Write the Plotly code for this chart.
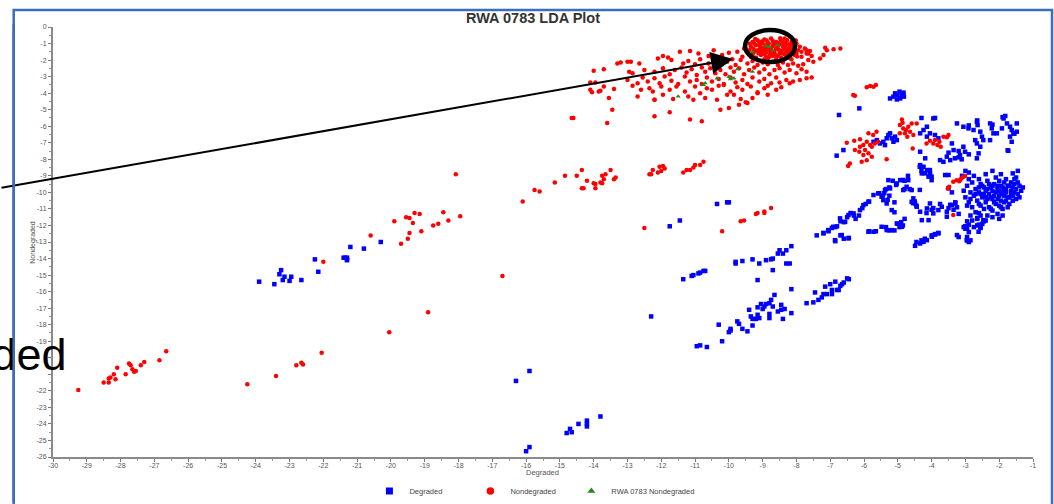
import plotly.graph_objects as go

# ---------------- data ----------------
# Degraded (blue squares)
deg_left = [(-23.9,-15.4),(-23.45,-15.55),(-23.3,-14.95),(-23.25,-14.7),(-23.15,-15.1),(-23.2,-15.3),
            (-23.0,-15.35),(-22.95,-15.1),(-22.65,-15.3),(-22.25,-14.05),(-22.15,-14.8),(-21.4,-13.95),
            (-21.35,-13.95),(-21.3,-14.05),(-21.3,-13.95),(-21.3,-14.1),(-21.2,-13.3),(-20.8,-13.4),(-20.3,-13.0)]
deg_bottom = [(-16.3,-21.4),(-15.9,-20.8),(-16.0,-25.65),(-15.9,-25.4),(-14.8,-24.55),(-14.7,-24.3),
              (-14.65,-24.5),(-14.45,-24.0),(-14.2,-23.8),(-14.2,-24.0),(-14.2,-24.15),(-13.8,-23.55)]
deg_mid = [(-12.3,-17.5),(-11.75,-12.05),(-11.45,-11.7),(-10.35,-10.7),(-10.05,-10.6),(-10.0,-10.6),
           (-11.35,-15.25),(-11.1,-15.05),(-11.05,-15.0),(-10.9,-14.9),(-10.85,-14.85),(-10.75,-14.75),
           (-10.7,-14.75),(-9.8,-14.3),(-9.8,-14.2),(-9.6,-14.15),(-9.3,-14.05),(-9.1,-14.3),(-8.9,-14.1),
           (-8.75,-14.05),(-8.7,-14.0),(-8.7,-14.7),(-8.55,-13.7),(-8.5,-13.5),(-8.4,-13.7),(-8.3,-13.5),
           (-8.15,-13.25),(-8.3,-14.3),(-8.2,-14.3),(-9.15,-15.3),(-8.15,-15.85)]
deg_lower = [(-10.95,-19.3),(-10.85,-19.25),(-10.65,-19.35),(-10.3,-18.0),(-10.2,-19.0),(-10.0,-18.45),
             (-9.95,-18.35),(-9.95,-18.25),(-9.75,-17.8),(-9.7,-17.95),(-9.6,-18.25),(-9.45,-18.4),
             (-9.4,-17.1),(-9.3,-18.05),(-9.35,-17.5),(-9.3,-17.65),(-9.2,-17.65),(-9.15,-17.4),(-9.1,-17.6),
             (-9.15,-16.95),(-9.05,-16.75),(-9.0,-17.05),(-8.95,-16.9),(-8.9,-16.75),(-8.8,-16.7),
             (-8.75,-16.5),(-8.7,-16.9),(-8.65,-16.2),(-8.8,-17.6),(-8.8,-17.35),(-8.55,-17.2),(-8.45,-17.1),
             (-8.45,-16.8),(-8.35,-17.05),(-8.4,-17.65),(-8.15,-17.3),(-7.7,-16.7),(-7.45,-16.05),(-7.5,-16.65),
             (-7.35,-16.5),(-7.25,-16.35),(-7.2,-16.15),(-7.15,-15.7),(-7.1,-16.15),(-7.0,-15.55),(-6.95,-15.9),
             (-6.95,-16.15),(-6.85,-15.4),(-6.8,-15.9),(-6.75,-15.9),(-6.7,-15.65),(-6.65,-15.55),(-6.6,-15.45),
             (-6.5,-15.2),(-6.45,-15.25)]
deg_band = [(-7.4,-12.6),(-7.2,-12.45),(-7.05,-12.35),(-6.95,-12.15),(-6.85,-12.1),(-6.8,-12.05),(-6.85,-12.95),
            (-6.7,-12.6),(-6.6,-12.8),(-6.45,-12.75),(-6.7,-11.75),(-6.6,-11.8),(-6.5,-11.5),(-6.4,-11.25),
            (-6.25,-11.6),(-6.3,-11.4),(-6.15,-11.4),(-6.05,-10.95),(-5.95,-10.7),(-5.85,-10.55),(-5.85,-12.35),
            (-5.65,-12.35),(-5.55,-10.05),(-5.45,-10.2),(-5.4,-10.05),(-5.35,-9.8),(-5.3,-10.45),(-5.25,-10.2),
            (-5.35,-12.1),(-5.25,-12.3),(-5.1,-12.3),(-5.25,-9.7),(-5.15,-9.3),(-5.05,-9.55),(-5.1,-10.6),
            (-5.1,-11.2),(-5.0,-11.9),(-4.95,-12.1),(-4.9,-11.8),(-4.85,-12.0),(-4.8,-11.6),(-4.85,-9.25),
            (-4.8,-9.3),(-4.7,-9.0),(-4.8,-9.8),(-4.65,-9.8),(-4.55,-10.65),(-4.5,-10.55),(-4.45,-10.8),
            (-4.35,-9.85),(-4.45,-13.0),(-4.3,-12.9),(-4.2,-12.8),(-4.0,-12.6),(-3.9,-12.55),(-3.8,-12.45),
            (-4.15,-11.25),(-4.0,-11.05),(-3.95,-10.95),(-3.75,-10.7),(-3.5,-10.95),(-3.5,-8.95),(-4.35,-8.45),
            (-4.3,-8.7),(-4.2,-8.85),(-4.05,-8.65),(-4.05,-8.9),(-4.0,-9.05),(-3.45,-10.75),(-3.35,-11.05),
            (-3.2,-12.7),(-2.95,-12.9),(-2.9,-13.0),(-3.05,-12.1),(-2.95,-12.2),(-3.0,-12.05),
            (-5.72,-10.16),(-5.58,-10.06),(-5.48,-10.26),(-5.38,-9.86),(-5.28,-9.26),(-5.23,-9.76),(-5.03,-9.46),
            (-4.93,-9.26),(-4.84,-9.86),(-4.74,-9.66),(-4.69,-9.26),(-4.59,-9.86),(-4.54,-10.36),(-4.49,-10.67),
            (-5.18,-11.07),(-5.33,-10.67),(-5.43,-10.47),(-5.87,-10.57),(-6.02,-10.77),(-6.12,-11.07),
            (-6.31,-11.27),(-6.46,-11.37),(-6.56,-11.78),(-6.71,-11.57),(-6.91,-12.08),(-7.06,-12.28),
            (-7.2,-12.48),(-6.86,-12.89),(-6.66,-12.58),(-6.46,-12.78),(-5.87,-12.38),(-5.72,-12.38),
            (-5.48,-12.08),(-5.33,-12.28),(-5.18,-12.28),(-5.03,-11.88),(-4.93,-11.98),(-4.88,-12.08),
            (-4.59,-10.57),(-4.44,-10.87),(-4.34,-11.17),(-4.14,-10.97),(-4.05,-10.67),(-3.95,-11.27),
            (-3.8,-11.07),(-3.7,-10.87),(-3.55,-11.17),(-3.55,-11.47),(-3.4,-10.77),(-3.3,-10.67),
            (-4.49,-13.23),(-4.34,-13.09),(-4.24,-12.99),(-4.14,-12.89),(-3.99,-12.68),(-3.9,-12.52),
            (-3.8,-12.48),(-3.25,-12.58),(-3.01,-12.08),(-2.96,-12.89),(-2.61,-12.38),(-2.56,-12.08),
            (-2.47,-11.68),(-4.09,-11.68),(-4.29,-11.68)]
deg_upper = [(-5.23,-4.32),(-5.13,-4.21),(-5.08,-4.01),(-5.01,-4.11),(-4.95,-3.91),(-4.93,-4.32),(-4.88,-4.11),
             (-4.83,-3.97),(-5.03,-4.38),(-4.82,-4.21),(-6.14,-4.92),(-6.74,-5.32),(-6.81,-7.78),(-6.61,-7.44),
             (-5.72,-6.94),(-5.62,-6.84),(-5.53,-7.04),(-5.43,-6.94),(-5.33,-6.73),(-5.28,-6.53),(-5.23,-6.43),
             (-5.18,-6.73),(-5.13,-6.94),(-5.03,-6.84),(-5.08,-6.63),(-5.38,-7.14),
             (-3.25,-5.83),(-3.06,-6.03),(-2.91,-6.13),(-2.76,-6.23),(-2.66,-5.73),(-2.64,-5.93),(-2.56,-6.33),
             (-2.51,-6.63),(-2.47,-6.84),(-2.71,-6.84),(-2.66,-7.04),(-2.56,-7.24),(-2.61,-7.64),(-2.66,-7.94),
             (-2.27,-5.83),(-2.22,-6.13),(-2.17,-6.43),(-2.27,-6.84),(-2.07,-6.43),(-1.92,-6.13),(-1.87,-5.53),
             (-1.82,-5.38),(-1.77,-5.83),(-1.68,-6.03),(-1.63,-6.23),(-1.58,-6.43),(-1.68,-6.63),(-1.63,-6.94),
             (-1.48,-6.33),(-1.48,-5.83),(-1.73,-7.48),(-3.06,-7.24),(-3.01,-7.54),(-3.16,-7.74),(-3.31,-7.94),
             (-3.45,-8.05),(-3.55,-7.84),(-3.35,-7.44),(-3.4,-7.04),(-3.75,-8.05),(-3.65,-8.15),(-3.95,-5.53),
             (-4.14,-6.03),(-4.34,-6.43),(-4.24,-6.23),(-4.05,-6.43),(-3.9,-6.53),(-3.8,-6.73),(-4.14,-6.63),
             (-4.34,-7.54),(-4.19,-7.94),(-4.34,-8.35),(-4.24,-8.45),(-4.14,-8.65),(-4.05,-8.85),(-4.09,-9.05),
             (-4.0,-9.26),(-4.29,-8.85),(-3.2,-7.88),(-3.11,-8.0),(-3.9,-5.5),(-4.3,-5.5),(-2.9,-5.95),
             (-2.65,-5.65),(-1.9,-5.45),(-1.55,-6.45),(-2.2,-5.9),(-3.6,-8.95),(-3.5,-9.75),(-3.5,-7.6),
             (-3.2,-7.5),(-2.9,-7.7),(-1.75,-7.45)]
deg_cloud = [(-3.05,-9.9),(-3.0,-10.3),(-2.95,-9.6),(-2.9,-10.6),(-2.85,-10.0),(-2.8,-9.4),(-2.8,-10.9),
             (-2.75,-10.2),(-2.7,-9.8),(-2.7,-11.2),(-2.65,-10.5),(-2.6,-9.2),(-2.6,-10.0),(-2.55,-10.8),
             (-2.5,-9.6),(-2.5,-10.3),(-2.45,-11.0),(-2.4,-9.9),(-2.4,-10.6),(-2.35,-9.3),(-2.35,-11.4),
             (-2.3,-10.1),(-2.3,-10.9),(-2.25,-9.7),(-2.2,-10.4),(-2.2,-11.1),(-2.15,-9.5),(-2.1,-10.0),
             (-2.1,-10.7),(-2.05,-9.8),(-2.05,-11.3),(-2.0,-10.2),(-2.0,-9.3),(-1.95,-10.5),(-1.95,-10.9),
             (-1.9,-9.7),(-1.9,-10.1),(-1.85,-9.4),(-1.85,-10.6),(-1.8,-10.0),(-1.8,-9.8),(-1.75,-10.3),
             (-1.7,-9.6),(-1.7,-10.7),(-1.65,-9.9),(-1.6,-10.2),(-1.55,-9.5),(-1.55,-10.0),(-1.5,-9.8),
             (-1.45,-10.1),(-1.4,-9.6),(-1.35,-9.9),(-1.3,-9.7),(-2.95,-10.8),(-2.9,-9.2),(-2.85,-11.4),
             (-2.75,-9.0),(-2.65,-11.6),(-2.6,-10.7),(-2.55,-9.5),(-2.5,-11.9),(-2.45,-10.1),(-2.4,-8.9),
             (-2.35,-10.4),(-2.3,-9.5),(-2.25,-11.0),(-2.2,-9.9),(-2.15,-10.6),(-2.1,-9.1),(-2.05,-10.4),
             (-2.0,-10.8),(-1.95,-9.6),(-1.9,-11.0),(-1.85,-10.2),(-1.8,-9.2),(-1.75,-10.9),(-1.7,-10.3),
             (-1.65,-9.4),(-1.6,-10.5),(-1.55,-9.2),(-1.5,-10.4),(-1.45,-9.4),(-1.4,-10.3),(-2.85,-10.4),
             (-2.7,-10.1),(-2.55,-10.1),(-2.45,-9.7),(-2.35,-9.8),(-2.25,-10.3),(-2.15,-10.2),(-2.05,-9.6),
             (-1.95,-10.0),(-1.85,-9.9),(-1.75,-9.6),(-1.65,-10.1),(-2.6,-9.7),(-2.4,-10.3),(-2.2,-9.6),
             (-2.0,-9.9),(-1.8,-10.5),(-1.6,-9.7),(-3.1,-9.0),(-3.0,-8.7),(-2.9,-8.8),(-2.2,-8.7),(-1.95,-8.9),
             (-1.6,-8.85),(-1.45,-8.7),(-1.5,-9.1),(-2.8,-11.7),(-2.75,-12.1),(-2.9,-12.4),(-2.95,-12.7),
             (-2.85,-12.9),(-3.0,-12.2),(-2.65,-12.0),(-2.55,-11.4),(-2.4,-11.7),(-2.2,-11.5),(-2.0,-11.6),
             (-1.9,-11.4),(-3.2,-11.3),(-3.3,-10.6),(-3.4,-10.0),(-3.25,-10.9),(-2.95,-11.75),(-2.9,-11.95),
             (-2.6,-11.95),(-2.55,-12.15),(-2.45,-11.75),(-2.65,-11.55),(-2.6,-11.25)]

# Nondegraded (red circles)
nd_lowleft = [(-29.25,-21.95),(-28.5,-21.5),(-28.35,-21.5),(-28.35,-21.25),(-28.3,-21.2),(-28.2,-21.0),
              (-28.15,-21.3),(-28.1,-20.6),(-27.85,-21.0),(-27.75,-20.35),(-27.7,-20.45),(-27.65,-20.7),
              (-27.6,-20.85),(-27.55,-20.8),(-27.4,-20.45),(-27.3,-20.25),(-26.85,-20.15),(-26.65,-19.6),
              (-24.25,-21.6),(-23.4,-21.1),(-22.8,-20.45),(-22.65,-20.3),(-22.6,-20.4),(-22.05,-19.7),
              (-22.0,-14.2),(-20.05,-18.45),(-18.9,-17.25),(-16.7,-15.05)]
nd_mid = [(-18.08,-8.9),(-20.6,-12.6),(-19.9,-11.75),(-19.55,-11.5),(-19.45,-11.55),(-19.3,-11.25),
          (-19.15,-11.3),(-19.35,-11.85),(-19.45,-12.45),(-19.5,-12.8),(-19.7,-13.1),(-19.1,-12.35),
          (-18.75,-12.0),(-18.6,-11.9),(-18.45,-11.2),(-18.3,-11.7),(-17.95,-11.45),(-16.1,-10.55),
          (-15.75,-9.85),(-15.6,-9.95),(-15.15,-9.4),(-14.85,-9.0),(-14.5,-9.0),(-14.35,-8.65),
          (-14.35,-9.75),(-14.3,-9.75),(-14.2,-9.3),(-14.0,-9.45),(-13.95,-9.75),(-13.95,-9.5),(-13.8,-9.4),
          (-13.75,-9.0),(-13.65,-8.9),(-13.7,-9.2),(-13.75,-9.45),(-13.5,-8.65),(-13.4,-9.2),(-13.35,-9.1),
          (-12.5,-12.15),(-12.35,-8.9),(-12.3,-8.9),(-12.25,-8.65),(-12.1,-8.8),(-12.05,-8.45),(-11.95,-8.4),
          (-12.0,-8.7),(-11.9,-8.55),(-11.35,-8.8),(-11.25,-8.65),(-11.15,-8.65),(-11.05,-8.5),(-11.0,-8.35),
          (-10.85,-8.35),(-10.75,-8.15),(-10.2,-12.35),(-9.65,-11.75),(-9.55,-11.7),(-9.2,-11.3),
          (-9.15,-11.25),(-8.95,-11.15),(-8.95,-11.25),(-8.75,-10.95)]
nd_core = [(-9.35,-1.2),(-9.3,-0.9),(-9.25,-1.5),(-9.2,-1.1),(-9.15,-0.8),(-9.1,-1.35),(-9.05,-1.7),
           (-9.0,-1.0),(-8.95,-0.75),(-8.95,-1.25),(-8.9,-1.55),(-8.85,-0.95),(-8.8,-1.4),(-8.8,-1.8),
           (-8.75,-0.7),(-8.7,-1.15),(-8.65,-1.6),(-8.6,-0.9),(-8.6,-1.3),(-8.55,-1.75),(-8.5,-1.05),
           (-8.45,-0.8),(-8.45,-1.45),(-8.4,-1.2),(-8.35,-1.65),(-8.3,-0.95),(-8.25,-1.35),(-8.2,-1.1),
           (-8.15,-1.55),(-8.1,-0.85),(-8.1,-1.3),(-8.05,-1.7),(-8.0,-1.0),(-7.95,-1.4),(-9.3,-1.65),
           (-9.2,-1.85),(-9.1,-0.95),(-9.0,-1.45),(-8.9,-1.1),(-8.85,-1.9),(-8.75,-1.3),(-8.7,-0.85),
           (-8.65,-1.45),(-8.55,-1.15),(-8.5,-1.6),(-8.4,-0.9),(-8.35,-1.35),(-8.3,-1.8),(-8.25,-1.05),
           (-8.2,-1.5),(-8.15,-0.9),(-8.05,-1.2),(-9.4,-1.4),(-9.35,-1.8),(-9.25,-1.0),(-9.05,-1.25),
           (-8.95,-1.95),(-8.85,-1.25),(-8.6,-1.95),(-8.45,-1.85),(-8.3,-1.5),(-8.15,-1.95),(-8.0,-1.6),
           (-7.9,-1.2),(-7.85,-1.5),(-7.85,-1.8),(-7.75,-1.3),(-7.7,-1.6),(-7.65,-2.0),(-7.6,-1.45),
           (-7.55,-1.75),(-7.5,-2.1),(-7.2,-1.7),(-7.1,-1.4),(-7.15,-1.25),(-6.9,-1.35),(-6.7,-1.3),
           (-7.7,-1.4),(-7.65,-1.6),(-7.3,-1.9),
           (-9.28,-1.32),(-9.22,-0.72),(-9.12,-1.58),(-9.08,-1.12),(-9.02,-0.88),(-8.98,-1.62),(-8.92,-1.38),
           (-8.88,-0.82),(-8.82,-1.02),(-8.78,-1.62),(-8.72,-1.52),(-8.68,-1.02),(-8.62,-1.72),(-8.58,-1.08),
           (-8.52,-1.38),(-8.48,-0.68),(-8.42,-1.58),(-8.38,-1.08),(-8.32,-1.22),(-8.28,-0.78),(-8.22,-1.68),
           (-8.18,-1.28),(-8.12,-1.08),(-8.08,-1.48),(-8.02,-0.82),(-7.98,-1.78),(-9.18,-1.42),(-9.38,-1.02),
           (-8.55,-0.95),(-8.7,-1.75),(-8.9,-1.8),(-9.05,-1.55),(-8.35,-0.7),(-8.25,-1.85)]
nd_cloud = [(-11.45,-1.5),(-11.15,-1.45),(-10.9,-1.6),(-10.6,-1.75),(-10.45,-1.4),(-10.2,-1.7),(-10.0,-1.55),
            (-9.75,-1.5),(-9.6,-1.8),(-9.55,-1.3),(-12.1,-1.9),(-11.95,-1.75),(-11.8,-1.85),(-11.7,-2.0),
            (-11.35,-2.2),(-11.2,-2.05),(-11.0,-2.25),(-10.85,-1.95),(-10.6,-2.2),(-10.4,-2.0),(-10.3,-2.3),
            (-10.05,-2.1),(-9.9,-1.95),(-9.8,-2.3),(-9.65,-2.0),(-9.45,-2.2),(-9.3,-2.05),(-9.15,-2.3),
            (-9.0,-2.15),(-8.85,-2.25),(-8.7,-2.1),(-8.55,-2.3),(-8.4,-2.15),(-8.25,-2.3),(-8.1,-2.2),
            (-7.95,-2.35),(-7.8,-2.25),(-12.85,-2.8),(-12.5,-2.6),(-12.2,-2.7),(-11.95,-2.5),(-11.75,-2.85),
            (-11.6,-2.6),(-11.4,-2.45),(-11.25,-2.75),(-11.1,-2.55),(-10.95,-2.9),(-10.8,-2.45),(-10.7,-2.7),
            (-10.55,-2.5),(-10.4,-2.8),(-10.25,-2.6),(-10.1,-2.85),(-9.95,-2.45),(-9.85,-2.7),(-9.7,-2.5),
            (-9.55,-2.85),(-9.4,-2.6),(-9.25,-2.45),(-9.1,-2.75),(-8.95,-2.55),(-8.8,-2.85),(-8.65,-2.6),
            (-8.5,-2.5),(-8.35,-2.75),(-8.2,-2.6),(-8.0,-2.8),(-7.85,-2.55),(-7.7,-2.7),(-13.0,-3.2),
            (-12.7,-3.4),(-12.55,-3.05),(-12.4,-3.3),(-12.2,-3.1),(-12.05,-3.4),(-11.9,-3.0),(-11.7,-3.25),
            (-11.5,-3.45),(-11.3,-3.0),(-11.15,-3.3),(-10.95,-3.2),(-10.8,-3.45),(-10.65,-3.05),(-10.5,-3.3),
            (-10.3,-3.15),(-10.15,-3.45),(-9.95,-3.05),(-9.8,-3.35),(-9.6,-3.2),(-9.45,-3.45),(-9.3,-3.05),
            (-9.1,-3.3),(-8.95,-3.15),(-8.75,-3.4),(-8.6,-3.05),(-8.5,-3.35),(-8.3,-3.2),(-8.2,-3.4),
            (-8.1,-3.3),(-7.9,-3.2),(-7.7,-3.1),(-7.55,-3.05),(-13.7,-3.6),(-13.4,-3.75),(-12.85,-3.55),
            (-12.6,-3.8),(-12.35,-3.7),(-12.0,-3.6),(-11.75,-3.8),(-11.55,-3.6),(-11.3,-3.9),(-11.0,-3.6),
            (-10.85,-4.0),(-10.65,-3.7),(-10.5,-3.8),(-10.3,-3.55),(-10.15,-3.5),(-9.95,-3.9),(-9.75,-3.65),
            (-9.6,-3.8),(-9.35,-3.6),(-9.15,-3.95),(-8.95,-3.7),(-8.85,-3.55),(-8.6,-3.8),(-8.45,-3.65),
            (-13.8,-3.85),(-14.05,-3.95),(-13.55,-4.3),(-12.7,-4.2),(-12.2,-4.4),(-11.95,-4.1),(-11.65,-4.35),
            (-11.2,-4.2),(-11.05,-4.4),(-10.7,-4.3),(-10.35,-4.4),(-10.05,-4.1),(-9.85,-4.1),(-9.65,-4.35),
            (-9.5,-4.55),(-9.3,-4.3),(-9.15,-4.0),(-8.85,-4.1),(-13.45,-5.0),(-13.6,-5.8),(-12.2,-5.4),
            (-11.75,-5.15),(-11.15,-5.6),(-10.8,-5.7),(-10.25,-5.0),(-10.0,-4.9),(-9.7,-4.7),(-9.45,-4.6),
            (-14.65,-5.5),(-14.6,-5.5),(-14.0,-2.65),(-13.7,-2.55),(-13.3,-2.2),(-13.2,-2.15),(-13.0,-2.1),
            (-12.9,-2.1),(-12.65,-2.2),(-14.1,-3.35),(-13.95,-3.35),(-12.95,-2.7),(-14.1,-3.8),(-13.85,-3.9),
            (-12.25,-3.9),(-12.2,-4.4)]
nd_right = [(-5.92,-3.65),(-5.82,-3.57),(-5.72,-3.61),(-5.65,-3.51),(-6.27,-4.15),(-6.32,-4.11),
            (-6.51,-7.0),(-6.29,-6.88),(-6.12,-6.78),(-5.87,-6.43),(-5.73,-6.53),(-5.63,-6.33),(-5.92,-6.94),
            (-5.82,-7.14),(-6.02,-7.14),(-6.12,-7.24),(-6.27,-7.44),(-5.97,-7.44),(-5.87,-7.64),(-5.77,-7.85),
            (-6.02,-7.74),(-5.92,-8.05),(-6.07,-8.15),(-6.42,-8.25),(-6.47,-8.41),(-5.33,-7.99),(-5.68,-7.04),
            (-5.58,-6.94),(-5.77,-7.24),(-6.14,-7.54),(-4.88,-5.59),(-4.94,-5.93),(-4.84,-6.13),(-4.76,-6.23),
            (-4.69,-6.03),(-4.64,-6.33),(-4.79,-6.43),(-4.59,-5.83),(-4.94,-6.43),(-4.54,-6.53),(-4.44,-5.83),
            (-4.72,-6.63),(-4.56,-7.34),(-4.86,-5.79),(-4.05,-6.88),(-3.95,-7.04),(-3.9,-6.84),(-3.83,-7.14),
            (-3.77,-6.94),(-3.65,-6.63),(-3.55,-6.67),(-3.5,-6.53),(-4.15,-7.04),(-3.73,-7.24),(-3.36,-9.36),
            (-3.26,-9.26),(-3.18,-9.32),(-3.11,-9.15),(-3.06,-9.05),(-3.01,-9.01),(-3.48,-9.66),(-3.52,-9.76),
            (-3.15,-9.22),(-3.36,-11.37)]

# RWA 0783 Nondegraded (green triangles)
rwa = [(-11.5,-4.2),(-10.75,-3.5),(-10.7,-3.4),(-10.35,-3.1),(-10.0,-3.0),(-9.95,-3.15),(-9.85,-3.1),
       (-9.75,-2.55),(-9.3,-2.7),(-9.3,-1.5),(-8.9,-1.15),(-8.8,-1.2),(-8.55,-1.1),(-8.7,-1.4)]

x_tick_vals = [-30,-29,-28,-27,-26,-25,-24,-23,-22,-21,-20,-19,-18,-17,-16,-15,-14,-13,-12,-11,-10,-9,-8,-7,-6,-5,-4,-3,-2,-1]
x_tick_text = ["-30","-29","-28","-27","-26","-25","-24","-23","-22","-21","-20","-19","-18","-17","-16",
               "-15","-14","-13","-12","-11","-10","-9","-8","-7","-6","-5","-4","-3","-2","-1"]
y_tick_vals = [0,-1,-2,-3,-4,-5,-6,-7,-8,-9,-10,-11,-12,-13,-14,-15,-16,-17,-18,-19,-20,-21,-22,-23,-24,-25,-26]
# labels -20 and -21 are hidden under the slide text in the picture
y_tick_text = ["0","-1","-2","-3","-4","-5","-6","-7","-8","-9","-10","-11","-12","-13","-14","-15","-16",
               "-17","-18","-19","","","-22","-23","-24","-25","-26"]

series = [
    ("Degraded", deg_left + deg_bottom + deg_mid + deg_lower + deg_band + deg_upper + deg_cloud,
     "square", "#0000FF", 4.5, 7, "legend", 0.3505),
    ("Nondegraded", nd_lowleft + nd_mid + nd_core + nd_cloud + nd_right,
     "circle", "#FF0000", 4.5, 7.5, "legend2", 0.4463),
    ("RWA 0783 Nondegraded", rwa, "triangle-up", "#1E8C1E", 4.5, 7, "legend3", 0.5421),
]

FONT = "Liberation Sans, Arial, sans-serif"
BORDER = "#3A6DBB"
fig = go.Figure()
legend_layout = {}
for name, pts, sym, col, sz, lsz, leg, lx in series:
    fig.add_trace(go.Scatter(
        x=[p[0] for p in pts], y=[p[1] for p in pts], mode="markers", name=name, showlegend=False,
        marker=dict(symbol=sym, color=col, size=sz, line=dict(width=0)),
    ))
    # legend swatch (no data, only a legend entry with a larger symbol)
    fig.add_trace(go.Scatter(
        x=[None], y=[None], mode="markers", name=name, legend=leg, showlegend=True,
        marker=dict(symbol=sym, color=col, size=lsz, line=dict(width=0)),
    ))
    legend_layout[leg] = dict(xref="container", yref="container", x=lx, y=0.0258, xanchor="left",
                              yanchor="middle", font=dict(size=7.5, color="#444", family=FONT),
                              bgcolor="rgba(0,0,0,0)", itemsizing="trace")

axis_common = dict(showgrid=False, zeroline=False, showline=True, linecolor="#8a8a8a", linewidth=2,
                   ticks="outside", ticklen=3, tickwidth=1, tickcolor="#777",
                   tickfont=dict(size=7, color="#555", family=FONT),
                   minor=dict(ticks="outside", ticklen=2, tickcolor="#999", dtick=0.5, showgrid=False))
fig.update_xaxes(range=[-30, -1], tickvals=x_tick_vals, ticktext=x_tick_text,
                 ticklabelstandoff=-2, automargin=False, **axis_common)
fig.update_yaxes(range=[-26, 0], tickvals=y_tick_vals, ticktext=y_tick_text,
                 automargin=False, **axis_common)

fig.update_layout(
    width=1054, height=504, paper_bgcolor="white", plot_bgcolor="white",
    margin=dict(l=53, r=21, t=27, b=47, autoexpand=False),
    font=dict(family=FONT),
    showlegend=True,
    **legend_layout,
)

# chart title
fig.add_annotation(x=0.4902, y=1.0209, xref="paper", yref="paper", text="<b>RWA 0783 LDA Plot</b>",
                   showarrow=False, xanchor="center", yanchor="middle",
                   font=dict(size=14.5, color="#333", family=FONT))
# axis titles
fig.add_annotation(x=0.4993, y=-0.0349, xref="paper", yref="paper", text="Degraded", showarrow=False,
                   xanchor="center", yanchor="middle", font=dict(size=7.5, color="#555", family=FONT))
fig.add_annotation(x=-0.0207, y=0.5, xref="paper", yref="paper", text="Nondegraded", showarrow=False,
                   textangle=-90, xanchor="center", yanchor="middle",
                   font=dict(size=7, color="#555", family=FONT))
# slide frame (blue border around the chart picture)
fig.add_shape(type="rect", xref="paper", yref="paper", x0=-0.0401, x1=1.0194, y0=-0.2, y1=1.0395,
              line=dict(color=BORDER, width=2.5), fillcolor="rgba(0,0,0,0)", layer="above")
# highlight ellipse
fig.add_shape(type="circle", xref="x", yref="y", x0=-9.52, x1=-8.04, y0=-2.12, y1=-0.18,
              line=dict(color="black", width=4.5), layer="above")
# pointer arrow
fig.add_annotation(x=-9.88, y=-1.94, xref="x", yref="y", text="", showarrow=True,
                   ax=-735, ay=129, axref="pixel", ayref="pixel", arrowhead=2, arrowsize=2.2,
                   arrowwidth=2, arrowcolor="black", standoff=0)
# slide text cut off at the left edge
fig.add_annotation(x=0.015, y=0.238, xref="paper", yref="paper", text="Degraded", showarrow=False,
                   xanchor="right", yanchor="middle", borderpad=0,
                   font=dict(size=45, color="black", family=FONT))
# left edge of the blue frame, drawn over the text
fig.add_annotation(x=-0.0401, y=-0.2, xref="paper", yref="paper", text="", showarrow=True,
                   ax=0, ay=-520, axref="pixel", ayref="pixel", arrowhead=0, arrowwidth=2.5,
                   arrowcolor=BORDER, standoff=0, startstandoff=0)

fig.write_html("out.html", config={"displayModeBar": False},
               post_script="document.body.style.margin='0px';")
